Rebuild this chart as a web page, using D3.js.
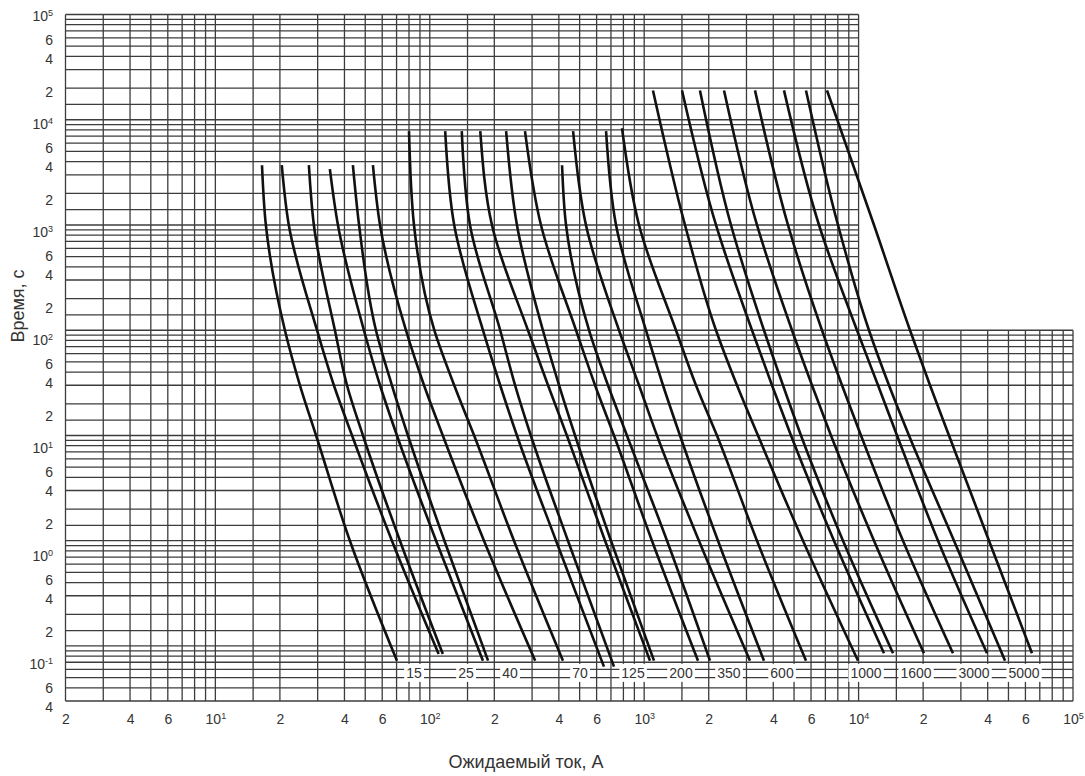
<!DOCTYPE html>
<html>
<head>
<meta charset="utf-8">
<script src="https://cdn.jsdelivr.net/npm/d3@7"></script>
<style>
  body { margin: 0; background: #fff; }
  svg text { font-family: "Liberation Sans", Arial, sans-serif; fill: #333; }
</style>
</head>
<body>
<div id="chart"></div>
<script>
// tick labels
const xTicks = [2, 4, 6, 10, 20, 40, 60, 100, 200, 400, 600, 1000, 2000, 4000, 6000,
                10000, 20000, 40000, 60000, 100000];
const yTicks = [1e5, 6e4, 4e4, 2e4, 1e4, 6e3, 4e3, 2e3, 1e3, 600, 400, 200, 100, 60, 40, 20,
                10, 6, 4, 2, 1, 0.6, 0.4, 0.2, 0.1, 0.06, 0.04];

// grid steps inside one decade
const decades = [0.01, 0.1, 1, 10, 100, 1000, 10000, 100000];
const xSteps = [1, 1.5, 2, 3, 4, 5, 6, 7, 8, 9];
const ySteps = [1, 1.4, 2, 3, 4, 5, 6, 7, 8, 9];

// time levels (s) read for every curve between its start and its end
const tMid = [1000, 100, 30, 10, 1];

// group 1: start ~3.7e3 s
const topA = [3700, 3700, 3700, 3400, 3700, 3700];
const endA = [0.0725, 0.084, 0.084, 0.0725, 0.0725, 0.0725];
const ampsA = [
  [16.5, 17.2, 21.1, 24.8, 29.5, 42.4, 70.3],
  [20.4, 22.0, 29.8, 35.7, 43.4, 66.6, 110],
  [27.3, 28.8, 36.1, 41.1, 48.8, 72.6, 115],
  [34.2, 37.3, 49.3, 58.6, 70.3, 107, 177],
  [43.8, 46.8, 56.1, 66.6, 79.1, 117, 187],
  [54.3, 58.6, 77.4, 94.0, 115, 179, 310]
];

// group 2: start ~7.8e3 s
const topB = [7800, 7800, 7800, 7800, 7800, 7800, 3700, 7800, 7800, 8300];
const endB = [0.0725, 0.0636, 0.0636, 0.0725, 0.0725, 0.0725, 0.0725, 0.0725, 0.0725, 0.0725];
const ampsB = [
  [80.0, 84.4, 105, 130, 161, 247, 418],
  [118, 130, 177, 213, 255, 388, 649],
  [141, 154, 213, 250, 296, 441, 723],
  [172, 195, 287, 356, 436, 657, 1064],
  [227, 255, 337, 401, 476, 700, 1111],
  [278, 330, 481, 590, 723, 1087, 1782],
  [414, 432, 553, 678, 831, 1278, 2027],
  [466, 535, 763, 946, 1147, 1801, 3115],
  [664, 739, 1019, 1224, 1469, 2209, 3620],
  [788, 946, 1407, 1744, 2185, 3358, 5684]
];

// group 3: start ~1.9e4 s
const topC = [19000, 19000, 19000, 19000, 19000, 19000, 19000, 19000];
const endC = [0.0725, 0.0852, 0.0852, 0.0852, 0.0852, 0.0852, 0.0725, 0.0852];
const ampsC = [
  [1099, 1550, 2162, 2709, 3394, 5504, 9936],
  [1501, 2162, 3183, 3945, 4839, 7678, 13140],
  [1820, 2540, 3620, 4440, 5387, 8458, 14480],
  [2357, 3358, 4891, 6062, 7434, 11800, 20180],
  [3287, 4685, 6750, 8367, 10260, 16110, 27560],
  [4488, 6536, 9830, 12320, 15110, 23470, 39710],
  [5684, 8015, 11180, 13860, 17180, 27860, 48180],
  [7122, 11800, 17370, 21530, 26400, 40570, 64370]
];

// labels in the band at the bottom
const bandLabels = ["15", "25", "40", "70", "125", "200", "350", "600", "1000", "1600", "3000", "5000"];
const bandAmps = [84.4, 147.5, 236.7, 501.8, 886.8, 1485, 2486, 4393, 10830, 18520, 34530, 59080];
const bandTime = 0.0554;

const W = 1085, H = 776;

const svg = d3.select("#chart").append("svg")
  .attr("width", W).attr("height", H)
  .style("background", "#fff");

// scales
const x = d3.scaleLog().domain([2, 1e5]).range([65.5, 1073]);
const y = d3.scaleLog().domain([0.03, 1e5]).range([701, 14.5]);
// the printed y labels sit on a slightly wider pitch than the grid
const yLab = d3.scaleLog().domain([0.04, 1e5]).range([707, 16]);

const xSplit = 1e4, ySplit = 100;

// grid values
const gridX = [], gridY = [];
decades.forEach(dec => {
  xSteps.forEach(s => { const v = dec * s; if (v >= 2 * 0.9999 && v <= 1e5 * 1.0001) gridX.push(v); });
  ySteps.forEach(s => { const v = dec * s; if (v >= 0.03 * 0.9999 && v <= 1e5 * 1.0001) gridY.push(v); });
});

const grid = svg.append("g")
  .attr("stroke", "#3c3c3c")
  .attr("stroke-width", 1.3)
  .attr("fill", "none");

grid.selectAll("line.v")
  .data(gridX)
  .enter().append("line")
  .attr("class", "v")
  .attr("x1", d => x(d)).attr("x2", d => x(d))
  .attr("y1", y(0.03))
  .attr("y2", d => d <= xSplit * 1.0001 ? y(1e5) : y(ySplit));

grid.selectAll("line.h")
  .data(gridY)
  .enter().append("line")
  .attr("class", "h")
  .attr("y1", d => y(d)).attr("y2", d => y(d))
  .attr("x1", x(2))
  .attr("x2", d => d <= ySplit * 1.0001 ? x(1e5) : x(xSplit));

// curves
const line = d3.line()
  .x(d => x(d[0]))
  .y(d => y(d[1]))
  .curve(d3.curveMonotoneY);

function curvesOf(amps, tops, ends) {
  return amps.map((row, i) => {
    const times = [tops[i]].concat(tMid, [ends[i]]);
    return row.map((a, j) => [a, times[j]]);
  });
}
const allCurves = curvesOf(ampsA, topA, endA)
  .concat(curvesOf(ampsB, topB, endB))
  .concat(curvesOf(ampsC, topC, endC));

svg.append("g").selectAll("path")
  .data(allCurves)
  .enter().append("path")
  .attr("d", line)
  .attr("fill", "none")
  .attr("stroke", "#111")
  .attr("stroke-width", 2.6);

// band labels on white boxes
const band = svg.append("g");
bandLabels.forEach((t, i) => {
  const g = band.append("g");
  const tx = g.append("text")
    .attr("x", x(bandAmps[i]))
    .attr("y", y(bandTime))
    .attr("dy", "0.35em")
    .attr("text-anchor", "middle")
    .attr("font-size", "14px")
    .text(t);
  const b = tx.node().getBBox();
  g.insert("rect", "text")
    .attr("x", b.x - 2).attr("y", b.y - 1)
    .attr("width", b.width + 4).attr("height", b.height + 2)
    .attr("fill", "#fff");
});

// tick label text with superscript for the decades
function tickText(sel) {
  sel.each(function(d) {
    const e = Math.floor(Math.log10(d) + 1e-9);
    const m = Math.round(d / Math.pow(10, e));
    const t = d3.select(this).text(null);
    if (m === 1) {
      t.append("tspan").text("10");
      t.append("tspan").attr("dy", "-0.6em").attr("font-size", "9px").text(e);
    } else {
      t.text(m);
    }
  });
}

const gx = svg.append("g")
  .attr("transform", "translate(0,724)")
  .call(d3.axisBottom(x).tickValues(xTicks).tickSize(0).tickPadding(0).tickFormat(d => d));
gx.select(".domain").remove();
gx.selectAll(".tick text")
  .attr("y", 0).attr("dy", 0)
  .attr("font-size", "14px")
  .attr("fill", "#333")
  .call(tickText);

const gy = svg.append("g")
  .attr("transform", "translate(53,0)")
  .call(d3.axisLeft(yLab).tickValues(yTicks).tickSize(0).tickPadding(0).tickFormat(d => d));
gy.select(".domain").remove();
gy.selectAll(".tick text")
  .attr("x", 0).attr("dy", "0.35em")
  .attr("font-size", "14px")
  .attr("fill", "#333")
  .call(tickText);

// axis titles
svg.append("text")
  .attr("transform", "translate(24,306) rotate(-90)")
  .attr("text-anchor", "middle")
  .attr("font-size", "18px")
  .text("Время, с");

svg.append("text")
  .attr("x", 526)
  .attr("y", 768)
  .attr("text-anchor", "middle")
  .attr("font-size", "18px")
  .text("Ожидаемый ток, А");
</script>
</body>
</html>
